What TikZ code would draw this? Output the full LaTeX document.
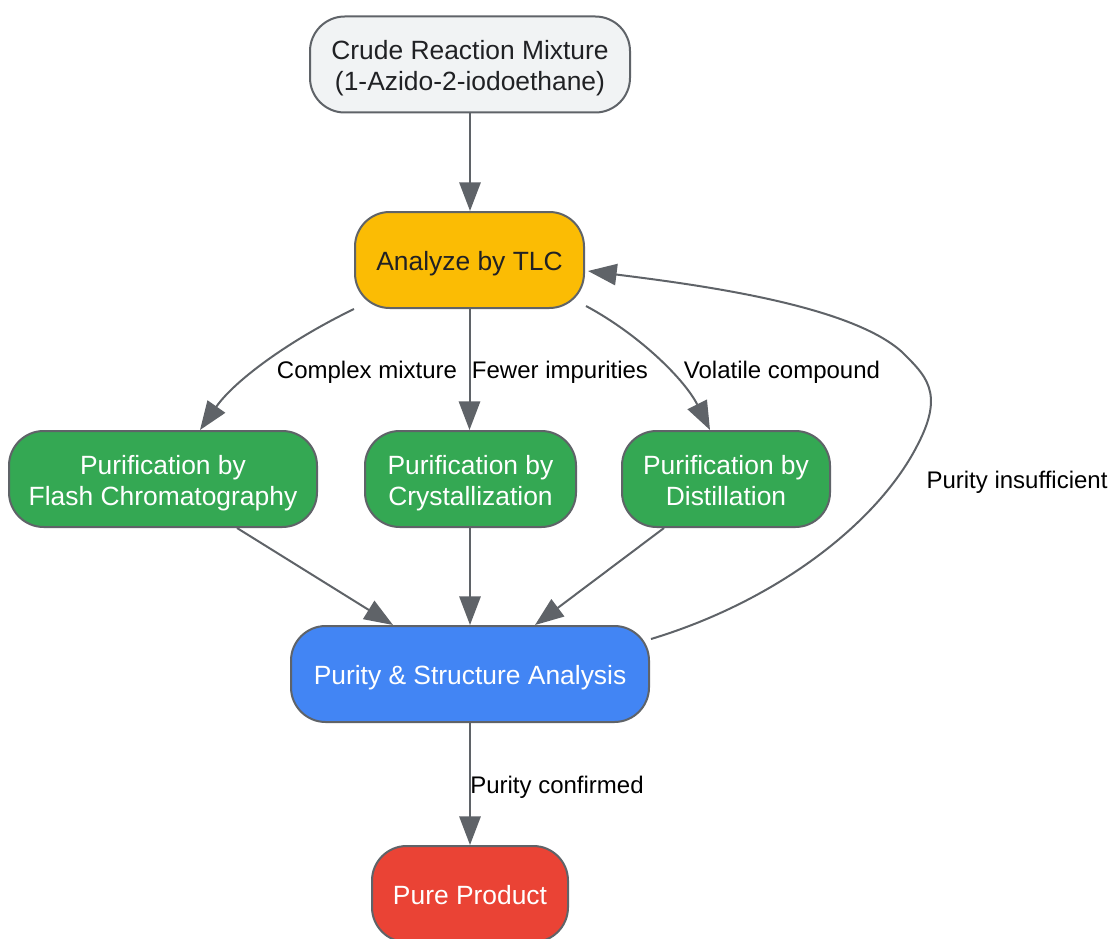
\documentclass[tikz,border=0pt]{standalone}
\usepackage{fontspec}
\setmainfont{Liberation Sans}
\usetikzlibrary{arrows.meta,calc}
\definecolor{edgec}{HTML}{5F6368}
\definecolor{darktxt}{HTML}{202124}
\definecolor{grayfill}{HTML}{F1F3F4}
\definecolor{yellowfill}{HTML}{FBBC04}
\definecolor{greenfill}{HTML}{34A853}
\definecolor{bluefill}{HTML}{4285F4}
\definecolor{redfill}{HTML}{EA4335}
\newcommand\topst{\rule{0pt}{20.5pt}}
\newcommand\botst{\rule[-4.5pt]{0pt}{4.5pt}}
\tikzset{
  box/.style={draw=edgec, line width=1.5pt, rounded corners=26pt, inner sep=0pt,
    minimum height=72pt, align=center, font=\fontsize{19.8}{23.25}\selectfont},
  lbl/.style={inner sep=0pt, font=\fontsize{18}{21}\selectfont, text=black},
  conn/.style={draw=edgec, line width=1.5pt, -{Triangle[length=21.5pt,width=16pt]}}
}
\begin{document}
\begin{tikzpicture}[x=0.75pt,y=-0.75pt]
\useasboundingbox (0,0) rectangle (1112,938);
\node[box, fill=grayfill, text=darktxt, minimum width=240pt] (crude) at (470,64.5) {\topst Crude Reaction Mixture\\(1-Azido-2-iodoethane)\botst};
\node[box, fill=yellowfill, text=darktxt, minimum width=171.75pt] (tlc) at (469.5,260) {\topst Analyze by TLC\botst};
\node[box, fill=greenfill, text=white, minimum width=231pt] (flash) at (163,479) {\topst Purification by\\Flash Chromatography\botst};
\node[box, fill=greenfill, text=white, minimum width=158.25pt] (cryst) at (470.5,479) {\topst Purification by\\Crystallization\botst};
\node[box, fill=greenfill, text=white, minimum width=156pt] (dist) at (726,479) {\topst Purification by\\Distillation\botst};
\node[box, fill=bluefill, text=white, minimum width=268.5pt] (pa) at (470,674) {\topst Purity \& Structure Analysis\botst};
\node[box, fill=redfill, text=white, minimum width=147pt] (pure) at (470,894) {\topst Pure Product\botst};

\draw[conn] (crude.south) -- (crude.south |- tlc.north);
\draw[conn] (tlc.south west) .. controls (290,340) and (235,380) .. ($(flash.north)+(37,0)$);
\draw[conn] (tlc.south) -- (tlc.south |- cryst.north);
\draw[conn] ($(tlc.south east)+(1,-3)$) .. controls (640,335) and (685,380) .. ($(dist.north)+(-16,0)$);
\draw[conn] ($(flash.south)+(74,0)$) -- ($(pa.north)+(-77,0)$);
\draw[conn] (cryst.south -| pa.north) -- (pa.north);
\draw[conn] ($(dist.south)+(-62,0)$) -- ($(pa.north)+(65,0)$);
\draw[conn] ($(pa.north east)+(1,14)$) .. controls (780,600) and (880,520) .. (918,444)
  .. controls (945,392) and (925,375) .. (902,352)
  .. controls (850,305) and (700,285) .. ($(tlc.east)+(3,11)$);
\draw[conn] (pa.south) -- (pure.north);

\node[lbl] (l1) at (367,372) {Complex mixture};
\node[lbl] (l2) at (560,372) {Fewer impurities};
\node[lbl] (l3) at (782,372) {Volatile compound};
\node[lbl] (l4) at (1017,482) {Purity insufficient};
\node[lbl] (l5) at (557,787) {Purity confirmed};
\end{tikzpicture}
\end{document}
